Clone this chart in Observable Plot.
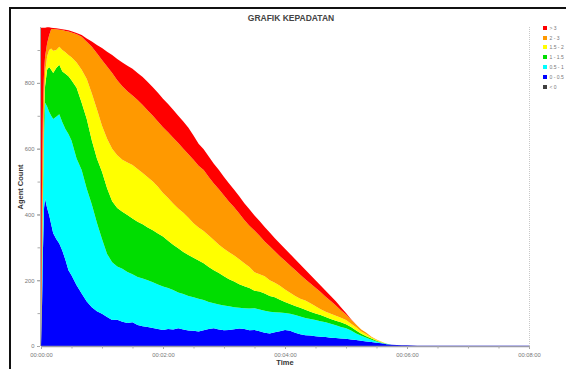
<!DOCTYPE html>
<html><head><meta charset="utf-8">
<script src="https://cdn.jsdelivr.net/npm/d3@7"></script>
<script src="https://cdn.jsdelivr.net/npm/@observablehq/plot@0.6"></script>
<style>
html,body{margin:0;padding:0;background:#fff;width:566px;height:369px;overflow:hidden;font-family:"Liberation Sans",Arial,sans-serif;}
#frame{position:absolute;left:9px;top:7px;width:640px;height:440px;border:2.5px solid #111;box-sizing:border-box;}
#chart{position:absolute;left:0;top:0;}
#title{position:absolute;left:0;width:582px;top:13px;text-align:center;font-weight:bold;font-size:8.5px;color:#444;}
#xlabel{position:absolute;left:0;width:570px;top:358px;text-align:center;font-weight:bold;font-size:7.5px;color:#333;}
#ylabel{position:absolute;left:20px;top:187px;transform:translate(-50%,-50%) rotate(-90deg);font-weight:bold;font-size:7.5px;color:#333;white-space:nowrap;}
#legend{position:absolute;left:543px;top:23px;font-size:5px;color:#777;}
.item{height:9.8px;display:flex;align-items:center;}
.sw{width:4px;height:4px;margin-right:2.5px;}
</style></head><body>
<div id="frame"></div>
<div id="chart"></div>
<div id="title">GRAFIK KEPADATAN</div>
<div id="xlabel">Time</div>
<div id="ylabel">Agent Count</div>
<div id="legend"></div>
<script>
// time in seconds
const times = [0,1,2,3,4,6,8,10,12,15,18,21,24,27,
30,35,40,45,50,55,60,65,70,75,80,85,90,95,100,105,110,115,120,125,130,135,140,145,150,155,160,165,170,175,180,185,190,195,200,205,210,215,220,225,230,235,240,245,250,255,260,265,270,275,280,285,290,295,300,305,310,315,320,325,330,335,340,345,350,355,360,
370,380,400,420,440,460,480];

const d0_05 = [0,120,300,420,448,420,398,370,343,325,312,290,262,230,
215,185,160,135,118,106,98,88,79,80,74,70,72,64,60,58,55,52,49,52,50,54,50,47,46,44,48,52,54,50,48,49,51,53,52,48,49,45,40,38,42,45,49,46,40,36,33,32,30,28,27,25,24,23,22,20,18,16,14,12,10,8,5,4,3,2,2,
1,1,1,1,1,1,1];

const d05_1 = [0,80,150,220,292,308,314,330,347,372,393,390,398,415,
410,385,375,343,312,269,227,192,176,162,161,155,146,146,145,142,139,135,132,124,120,109,108,105,102,100,92,82,76,76,75,72,67,63,63,66,66,66,67,66,61,57,51,52,54,54,52,50,49,47,45,43,39,35,32,27,20,15,11,7,4,2,1,0,0,0,0,
0,0,0,0,0,0,0];

const d1_15 = [0,30,50,60,50,112,136,140,140,148,150,155,168,175,
183,215,205,212,195,195,205,200,185,178,173,173,170,168,165,160,158,155,152,144,138,134,128,125,120,116,112,106,100,96,89,82,78,72,67,62,53,55,53,48,45,39,34,30,28,26,25,22,20,19,16,14,14,14,12,11,9,6,5,4,2,1,1,0,0,0,0,
0,0,0,0,0,0,0];

const d15_2 = [0,30,40,40,40,40,52,65,68,55,55,65,65,65,
70,77,100,122,143,150,140,150,160,160,158,160,162,160,156,153,148,142,132,130,125,121,119,113,105,100,98,96,92,86,84,82,79,76,70,64,56,52,52,48,44,42,38,34,30,28,28,26,22,18,16,16,15,14,13,10,10,7,6,3,2,1,0,0,0,0,0,
0,0,0,0,0,0,0];

const d2_3 = [0,240,200,90,50,40,45,58,66,63,52,61,65,71,
75,86,100,113,142,170,200,220,230,228,224,217,212,210,207,203,200,199,200,200,200,199,195,193,193,188,185,178,172,169,162,154,147,139,131,126,127,117,106,103,96,90,87,83,79,73,65,60,56,52,46,39,31,23,17,12,8,6,4,2,2,1,0,0,0,0,0,
0,0,0,0,0,0,0];

const dGt3 = [968,468,228,138,88,49,24,5,3,3,3,2,4,4,
4,4,6,10,16,25,36,45,55,65,72,77,81,82,85,87,87,87,87,86,85,83,83,81,74,67,63,62,60,58,56,55,53,52,51,50,46,45,44,42,40,39,37,35,33,31,29,26,23,20,18,15,13,9,4,1,0,0,0,0,0,0,0,0,0,0,0,
0,0,0,0,0,0,0];

const dLt0 = times.map(() => 0);

// categories, bottom of stack first
const categories = ["< 0", "0 - 0.5", "0.5 - 1", "1 - 1.5", "1.5 - 2", "2 - 3", "> 3"];
const colors     = ["#404040", "#0000ff", "#00ffff", "#00dd00", "#ffff00", "#ff9900", "#ff0000"];
const seriesVals = [dLt0, d0_05, d05_1, d1_15, d15_2, d2_3, dGt3];

const xMajor = [0,120,240,360,480];
const xMinor = d3.range(0,481,30);
const yMajor = [0,200,400,600,800];
const yMinor = d3.range(0,901,100);

const rows = [];
categories.forEach((c,i) => {
  if (c === "< 0") return;
  times.forEach((t,j) => rows.push({t, v: seriesVals[i][j], cat: c}));
});

const pad = n => String(n).padStart(2,"0");
const fmt = s => `${pad(Math.floor(s/3600))}:${pad(Math.floor(s/60)%60)}:${pad(s%60)}`;

const chart = Plot.plot({
  width: 566, height: 369,
  marginLeft: 41, marginRight: 37, marginTop: 27, marginBottom: 23,
  style: {background: "transparent", fontFamily: "Liberation Sans, Arial, sans-serif", fontSize: "5.8px", color: "#777"},
  x: {domain: [0,480]},
  y: {domain: [0,970]},
  color: {domain: categories, range: colors},
  marks: [
    Plot.ruleX([480], {stroke: "#c8c8c8", strokeDasharray: "1,1"}),
    Plot.areaY(rows, {x: "t", y: "v", z: "cat", fill: "cat", curve: "linear"}),
    Plot.ruleY([0], {stroke: "#9a9aa8", strokeWidth: 1.4}),
    Plot.ruleX([0], {stroke: "#aaa", dx: -1}),
    Plot.axisX({ticks: xMajor, tickFormat: fmt, tickSize: 3, tickPadding: 3, stroke: "#999", fill: "#777", label: null}),
    Plot.axisX({ticks: xMinor, tickSize: 2.5, text: null, stroke: "#aaa", label: null}),
    Plot.axisY({ticks: yMajor, tickSize: 3, tickPadding: 3, stroke: "#999", fill: "#777", label: null, dx: -1}),
    Plot.axisY({ticks: yMinor, tickSize: 2.5, text: null, stroke: "#aaa", label: null, dx: -1})
  ]
});
document.getElementById("chart").appendChild(chart);

// legend (top item first)
const leg = document.getElementById("legend");
for (let i = categories.length - 1; i >= 0; i--) {
  const it = document.createElement("div");
  it.className = "item";
  it.innerHTML = `<span class="sw" style="background:${colors[i]}"></span><span>${categories[i]}</span>`;
  leg.appendChild(it);
}
</script>
</body></html>
